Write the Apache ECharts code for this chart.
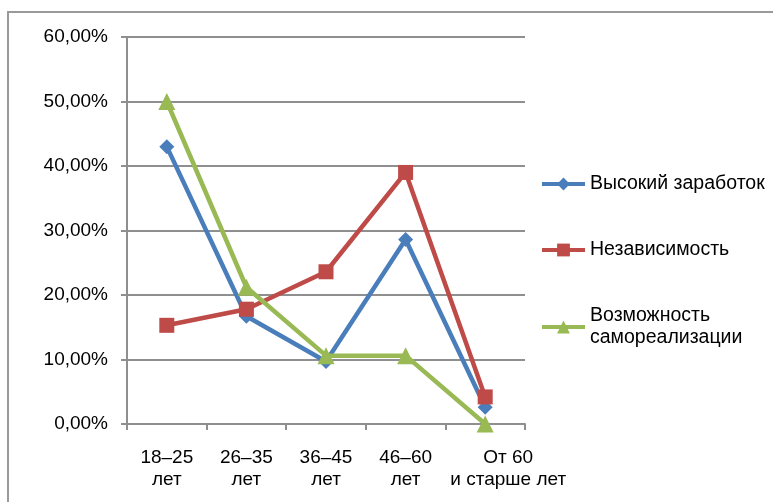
<!DOCTYPE html>
<html>
<head>
<meta charset="utf-8">
<script src="https://cdn.jsdelivr.net/npm/echarts@6/dist/echarts.min.js"></script>
<style>
  html, body { margin: 0; padding: 0; background: #fff; }
  #chart { width: 773px; height: 502px; }
</style>
</head>
<body>
<div id="chart"></div>
<script>
// Age groups on the category axis
var categories = ['18–25\nлет', '26–35\nлет', '36–45\nлет', '46–60\nлет', 'От 60\nи старше лет'];

// Share of respondents (percent) per motive
var highEarnings    = [43.0, 16.7, 9.7, 28.6, 2.6];
var independence    = [15.3, 17.8, 23.6, 39.0, 4.2];
var selfRealization = [50.0, 21.2, 10.6, 10.6, 0.0];

var seriesNames = ['Высокий заработок', 'Независимость', 'Возможность самореализации'];

// Y-axis tick values (percent)
var yMin = 0, yMax = 60, yStep = 10;

var FONT = '"Liberation Sans", Arial, sans-serif';
var GRID_GRAY = '#8f8f8f';

function pct(v) {
  return v.toFixed(2).replace('.', ',') + '%';
}

// The last, wide label sits a bit to the right of its slot
var axisCategories = categories.map(function (c, i) {
  return i === categories.length - 1
    ? { value: c, textStyle: { padding: [0, 0, 0, 46] } }
    : c;
});

function lineSeries(name, data, color, symbol, size) {
  return {
    name: name,
    type: 'line',
    data: data,
    symbol: symbol,
    symbolSize: size,
    lineStyle: { color: color, width: 4.5 },
    itemStyle: { color: color },
    emphasis: { disabled: true },
    animation: false
  };
}

function legendBlock(name, top, extraText) {
  return {
    data: [name],
    orient: 'vertical',
    left: 540,
    top: top,
    padding: 0,
    itemWidth: 43,
    itemHeight: 16,
    itemGap: 0,
    selectedMode: false,
    lineStyle: { width: 4 },
    formatter: function (n) {
      return n === seriesNames[2] ? 'Возможность\nсамореализации' : n;
    },
    textStyle: Object.assign({
      fontFamily: FONT,
      fontSize: 19.5,
      color: '#000',
      lineHeight: 22
    }, extraText || {})
  };
}

var chart = echarts.init(document.getElementById('chart'), null, { renderer: 'canvas' });

chart.setOption({
  backgroundColor: '#fff',
  animation: false,
  graphic: [{
    type: 'rect',
    shape: { x: 8, y: 12, width: 900, height: 700 },
    style: { fill: 'none', stroke: '#9a9a9a', lineWidth: 2 },
    silent: true,
    z: -1
  }],
  legend: [
    legendBlock(seriesNames[0], 173),
    legendBlock(seriesNames[1], 239),
    legendBlock(seriesNames[2], 294, { padding: [22, 0, 0, 0] })
  ],
  grid: { left: 127, right: 248, top: 37, bottom: 78 },
  xAxis: {
    type: 'category',
    data: axisCategories,
    boundaryGap: true,
    axisLine: { lineStyle: { color: GRID_GRAY, width: 2 } },
    axisTick: { show: true, length: 6, alignWithLabel: false, lineStyle: { color: GRID_GRAY, width: 2 } },
    axisLabel: {
      interval: 0,
      margin: 23,
      fontFamily: FONT,
      fontSize: 19,
      lineHeight: 22,
      color: '#000'
    }
  },
  yAxis: {
    type: 'value',
    min: yMin,
    max: yMax,
    interval: yStep,
    axisLine: { show: true, lineStyle: { color: GRID_GRAY, width: 2 } },
    axisTick: { show: true, length: 6, lineStyle: { color: GRID_GRAY, width: 2 } },
    splitLine: { show: true, lineStyle: { color: GRID_GRAY, width: 2 } },
    axisLabel: {
      margin: 19,
      fontFamily: FONT,
      fontSize: 19,
      color: '#000',
      formatter: pct
    }
  },
  series: [
    lineSeries(seriesNames[0], highEarnings, '#4a7ebb', 'diamond', 15),
    lineSeries(seriesNames[1], independence, '#be4b48', 'rect', 15),
    lineSeries(seriesNames[2], selfRealization, '#98b954', 'triangle', 17)
  ]
});
</script>
</body>
</html>
